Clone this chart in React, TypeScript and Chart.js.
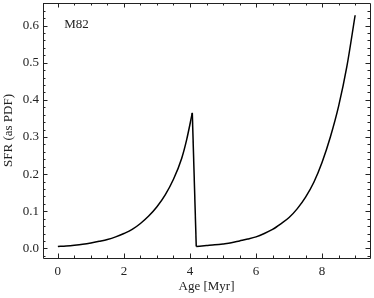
import { useEffect, useRef } from "react";
import { Chart, registerables } from "chart.js";

Chart.register(...registerables);

// First burst (rising), age in Myr and SFR (as PDF)
const ageBurst1 = [0, 0.25, 0.5, 0.75, 1, 1.25, 1.5, 1.75, 2, 2.25, 2.5, 2.75, 3, 3.25, 3.5, 3.75, 3.9, 4.07];
const sfrBurst1 = [0.005, 0.0065, 0.0085, 0.011, 0.0145, 0.019, 0.024, 0.031, 0.040, 0.051, 0.067, 0.087, 0.112, 0.144, 0.186, 0.243, 0.293, 0.365];
// Second burst (rising)
const ageBurst2 = [4.19, 4.5, 4.75, 5, 5.25, 5.5, 5.75, 6, 6.25, 6.5, 6.75, 7, 7.25, 7.5, 7.75, 8, 8.25, 8.5, 8.75, 9];
const sfrBurst2 = [0.005, 0.0075, 0.0095, 0.012, 0.015, 0.020, 0.025, 0.031, 0.040, 0.051, 0.066, 0.083, 0.107, 0.138, 0.178, 0.232, 0.300, 0.383, 0.490, 0.628];

const xTickValues = [0, 2, 4, 6, 8];
const yTickValues = [0, 0.1, 0.2, 0.3, 0.4, 0.5, 0.6];
const xMinorStep = 0.5;
const yMinorStep = 0.02;
const xRange = [-0.45, 9.45];
const yRange = [-0.026, 0.661];

const FONT = "'Liberation Serif', 'Times New Roman', serif";
const INK = "#222";

function toPoints(xs: number[], ys: number[]) {
  return xs.map((x, i) => ({ x, y: ys[i] }));
}

const framePlugin = {
  id: "frameTicks",
  afterDatasetsDraw(chart: any) {
    const { ctx, chartArea } = chart;
    const xs = chart.scales.x;
    const ys = chart.scales.y;
    const { left, right, top, bottom } = chartArea;
    ctx.save();
    ctx.strokeStyle = INK;
    ctx.lineWidth = 1;
    ctx.beginPath();
    ctx.rect(Math.round(left) + 0.5, Math.round(top) + 0.5, Math.round(right - left), Math.round(bottom - top));
    ctx.stroke();

    const drawX = (v: number, len: number) => {
      const px = Math.round(xs.getPixelForValue(v)) + 0.5;
      ctx.moveTo(px, bottom);
      ctx.lineTo(px, bottom - len);
      ctx.moveTo(px, top);
      ctx.lineTo(px, top + len);
    };
    const drawY = (v: number, len: number) => {
      const py = Math.round(ys.getPixelForValue(v)) + 0.5;
      ctx.moveTo(left, py);
      ctx.lineTo(left + len, py);
      ctx.moveTo(right, py);
      ctx.lineTo(right - len, py);
    };
    ctx.beginPath();
    const xStart = Math.ceil(xRange[0] / xMinorStep);
    const xEnd = Math.floor(xRange[1] / xMinorStep);
    for (let i = xStart; i <= xEnd; i++) {
      const v = i * xMinorStep;
      if (xTickValues.some((t) => Math.abs(t - v) < 1e-9)) continue;
      drawX(v, 2.5);
    }
    const yStart = Math.ceil(yRange[0] / yMinorStep);
    const yEnd = Math.floor(yRange[1] / yMinorStep);
    for (let i = yStart; i <= yEnd; i++) {
      const v = i * yMinorStep;
      if (yTickValues.some((t) => Math.abs(t - v) < 1e-9)) continue;
      drawY(v, 2.5);
    }
    xTickValues.forEach((v) => drawX(v, 4.5));
    yTickValues.forEach((v) => drawY(v, 4.5));
    ctx.stroke();

    // label inside the axes
    ctx.fillStyle = INK;
    ctx.font = `13px ${FONT}`;
    ctx.textBaseline = "alphabetic";
    ctx.textAlign = "left";
    ctx.fillText("M82", left + 0.065 * (right - left), top + 25);
    ctx.restore();
  },
};

export default function App() {
  const ref = useRef<HTMLCanvasElement | null>(null);

  useEffect(() => {
    document.body.style.margin = "0";
    if (!ref.current) return;
    const drop = [
      { x: ageBurst1[ageBurst1.length - 1], y: sfrBurst1[sfrBurst1.length - 1] },
      { x: ageBurst2[0], y: sfrBurst2[0] },
    ];
    const lineStyle = {
      borderColor: "#000",
      borderWidth: 1.5,
      pointRadius: 0,
      fill: false,
    };
    const chart = new Chart(ref.current, {
      type: "line",
      data: {
        datasets: [
          { ...lineStyle, data: toPoints(ageBurst1, sfrBurst1), cubicInterpolationMode: "monotone" },
          { ...lineStyle, data: drop },
          { ...lineStyle, data: toPoints(ageBurst2, sfrBurst2), cubicInterpolationMode: "monotone" },
        ],
      } as any,
      options: {
        animation: false,
        responsive: false,
        devicePixelRatio: 1,
        layout: { padding: { top: 3, right: 4, left: 0, bottom: 0 } },
        plugins: { legend: { display: false }, tooltip: { enabled: false } },
        scales: {
          x: {
            type: "linear",
            min: xRange[0],
            max: xRange[1],
            grid: { display: false, drawTicks: false },
            border: { display: false },
            afterBuildTicks: (s: any) => {
              s.ticks = xTickValues.map((v) => ({ value: v }));
            },
            afterFit: (s: any) => {
              s.height = 40;
              s.paddingLeft = 0;
              s.paddingRight = 0;
            },
            ticks: {
              color: INK,
              padding: 6,
              maxRotation: 0,
              autoSkip: false,
              font: { family: FONT, size: 13 },
              callback: (v: any) => String(v),
            },
            title: {
              display: true,
              text: "Age [Myr]",
              color: INK,
              font: { family: FONT, size: 13 },
              padding: { top: 0, bottom: 4 },
            },
          },
          y: {
            type: "linear",
            min: yRange[0],
            max: yRange[1],
            grid: { display: false, drawTicks: false },
            border: { display: false },
            afterBuildTicks: (s: any) => {
              s.ticks = yTickValues.map((v) => ({ value: v }));
            },
            afterFit: (s: any) => {
              s.width = 43;
              s.paddingTop = 0;
              s.paddingBottom = 0;
            },
            ticks: {
              color: INK,
              padding: 4,
              autoSkip: false,
              font: { family: FONT, size: 13 },
              callback: (v: any) => Number(v).toFixed(1),
            },
            title: {
              display: true,
              text: "SFR (as PDF)",
              color: INK,
              font: { family: FONT, size: 13 },
              padding: { top: 1, bottom: 0 },
            },
          },
        },
      },
      plugins: [framePlugin],
    });
    return () => chart.destroy();
  }, []);

  return <canvas ref={ref} width={374} height={298} style={{ display: "block", width: 374, height: 298 }} />;
}
